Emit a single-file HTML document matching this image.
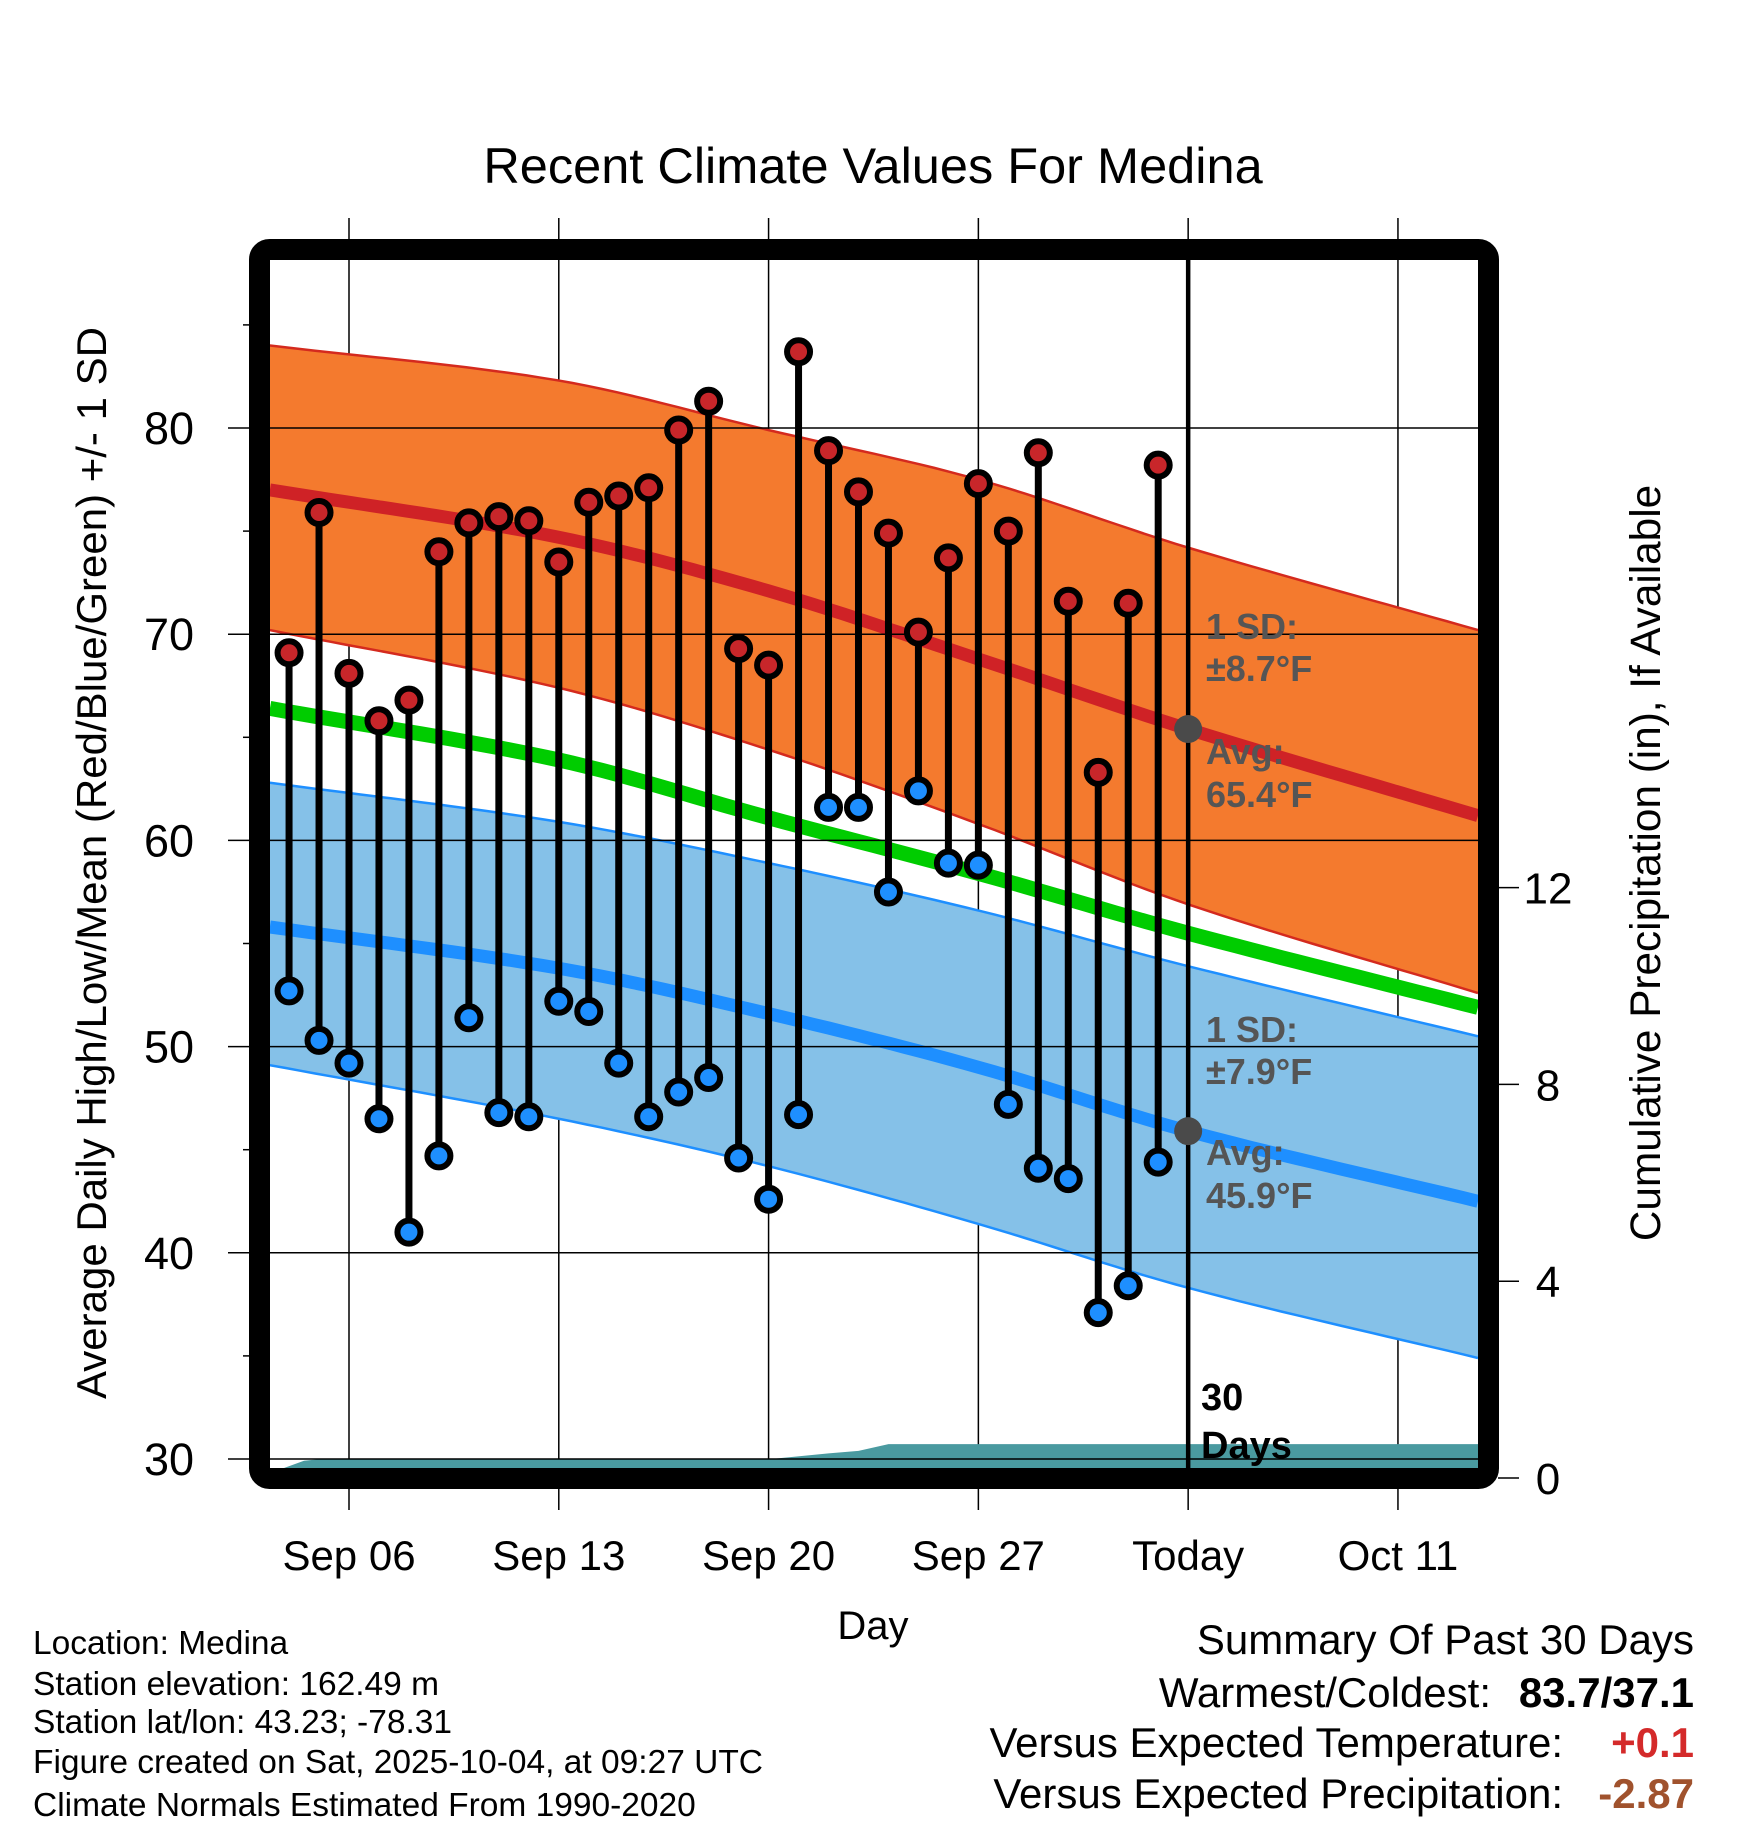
<!DOCTYPE html>
<html><head><meta charset="utf-8"><style>
html,body{margin:0;padding:0;background:#fff}
svg{display:block;font-family:"Liberation Sans",Arial,sans-serif}
</style></head><body>
<svg id="chart" width="1748" height="1828" viewBox="0 0 1748 1828" xmlns="http://www.w3.org/2000/svg">
<defs><clipPath id="plotclip"><rect x="270" y="260" width="1208" height="1208"/></clipPath></defs>
<text x="873" y="183" font-size="50.5" text-anchor="middle">Recent Climate Values For Medina</text>
<g id="grid"></g>
<g id="plot" clip-path="url(#plotclip)"></g>
<g id="axes"></g>
<g id="marks"></g>
<text transform="translate(106,863) rotate(-90)" font-size="42" text-anchor="middle">Average Daily High/Low/Mean (Red/Blue/Green) +/- 1 SD</text>
<text transform="translate(1660,863) rotate(-90)" font-size="42.3" text-anchor="middle">Cumulative Precipitation (in), If Available</text>
<text x="873" y="1639" font-size="40" text-anchor="middle">Day</text>
<g font-size="33.5">
<text x="33" y="1654">Location: Medina</text>
<text x="33" y="1695">Station elevation: 162.49 m</text>
<text x="33" y="1733">Station lat/lon: 43.23; -78.31</text>
<text x="33" y="1773">Figure created on Sat, 2025-10-04, at 09:27 UTC</text>
<text x="33" y="1816">Climate Normals Estimated From 1990-2020</text>
</g>
<g font-size="42">
<text x="1694" y="1654" text-anchor="end">Summary Of Past 30 Days</text>
<text x="1491" y="1707" text-anchor="end">Warmest/Coldest:</text>
<text x="1694" y="1707" text-anchor="end" font-weight="bold">83.7/37.1</text>
<text x="1563" y="1757" text-anchor="end">Versus Expected Temperature:</text>
<text x="1694" y="1757" text-anchor="end" font-weight="bold" fill="#d42a2a">+0.1</text>
<text x="1563" y="1808" text-anchor="end">Versus Expected Precipitation:</text>
<text x="1694" y="1808" text-anchor="end" font-weight="bold" fill="#a0522d">-2.87</text>
</g>
</svg>
<script>
// day index 0 = Sep 06
const normDays   = [-2.64, 7, 14, 21, 28, 37.67];
const upperSDHi  = [84.0, 82.3, 79.9, 77.5, 74.2, 70.2];
const avgHi      = [77.0, 74.7, 72.1, 68.8, 65.4, 61.2];
const lowerSDHi  = [70.2, 67.4, 64.4, 60.8, 56.9, 52.6];
const avgMean    = [66.4, 63.9, 61.1, 58.4, 55.5, 51.9];
const upperSDLo  = [62.8, 60.9, 58.9, 56.6, 53.9, 50.5];
const avgLo      = [55.8, 53.8, 51.6, 49.0, 45.9, 42.5];
const lowerSDLo  = [49.1, 46.5, 44.2, 41.4, 38.3, 34.9];
const highs = [69.1,75.9,68.1,65.8,66.8,74.0,75.4,75.7,75.5,73.5,76.4,76.7,77.1,79.9,81.3,69.3,68.5,83.7,78.9,76.9,74.9,70.1,73.7,77.3,75.0,78.8,71.6,63.3,71.5,78.2];
const lows  = [52.7,50.3,49.2,46.5,41.0,44.7,51.4,46.8,46.6,52.2,51.7,49.2,46.6,47.8,48.5,44.6,42.6,46.7,61.6,61.6,57.5,62.4,58.9,58.8,47.2,44.1,43.6,37.1,38.4,44.4];
const firstDay = -2; // Sep 04
const precipDays = [-2.64, -1.5, -1, 14, 16, 17, 18, 37.67];
const precipVals = [0.1, 0.35, 0.38, 0.38, 0.5, 0.55, 0.69, 0.69];
const xTickDays = [0, 7, 14, 21, 28, 35];
const xTickLabels = ["Sep 06","Sep 13","Sep 20","Sep 27","Today","Oct 11"];
const yTicks = [30,40,50,60,70,80];
const y2Ticks = [0,4,8,12];
const todayDay = 28;

const NS="http://www.w3.org/2000/svg";
const X = d => 349 + d*29.97;
const Y = v => 1459 - (v-30)*20.62;
const Y2 = p => 1478 - p*49.2;
function mk(tag, attrs, parent){const e=document.createElementNS(NS,tag);for(const k in attrs)e.setAttribute(k,attrs[k]);parent.appendChild(e);return e;}
function slope(xs,ys,i){
  const n=xs.length;
  if(i===0) return (ys[1]-ys[0])/(xs[1]-xs[0]);
  if(i===n-1) return (ys[n-1]-ys[n-2])/(xs[n-1]-xs[n-2]);
  return (ys[i+1]-ys[i-1])/(xs[i+1]-xs[i-1]);
}
function interp(xs, ys, x){
  let i=0; while(i<xs.length-2 && x>xs[i+1]) i++;
  const x0=xs[i],x1=xs[i+1],h=x1-x0,t=(x-x0)/h;
  const m0=slope(xs,ys,i)*h,m1=slope(xs,ys,i+1)*h;
  const t2=t*t,t3=t2*t;
  return (2*t3-3*t2+1)*ys[i]+(t3-2*t2+t)*m0+(-2*t3+3*t2)*ys[i+1]+(t3-t2)*m1;
}
function curvePts(arr){
  const p=[];const a=normDays[0],b=normDays[normDays.length-1];const N=80;
  for(let k=0;k<=N;k++){const d=a+(b-a)*k/N;p.push([X(d),Y(interp(normDays,arr,d))]);}
  return p;
}
const toStr = p=>p.map(q=>q[0].toFixed(1)+","+q[1].toFixed(1)).join(" ");

const grid=document.getElementById('grid'), plot=document.getElementById('plot'), axes=document.getElementById('axes'), marks=document.getElementById('marks');

const uh=curvePts(upperSDHi), lh=curvePts(lowerSDHi), ul=curvePts(upperSDLo), ll=curvePts(lowerSDLo);
let e=mk('polygon',{points:toStr(uh.concat(lh.slice().reverse())),fill:'#f47a2e'},plot);


e=mk('polygon',{points:toStr(ul.concat(ll.slice().reverse())),fill:'#85c1e8'},plot);


[[uh,'#d42a1e'],[lh,'#d42a1e'],[ul,'#1e8fff'],[ll,'#1e8fff']].forEach(([p,c])=>{
  const l=mk('polyline',{points:toStr(p),fill:'none',stroke:c,'stroke-width':2.5},plot);
  
  
});
e=mk('polyline',{points:toStr(curvePts(avgMean)),fill:'none',stroke:'#00cc00','stroke-width':15},plot);


e=mk('polyline',{points:toStr(curvePts(avgHi)),fill:'none',stroke:'#cf2226','stroke-width':13},plot);


e=mk('polyline',{points:toStr(curvePts(avgLo)),fill:'none',stroke:'#1e8fff','stroke-width':13},plot);



const pp=precipDays.map((d,i)=>[X(d),Y2(precipVals[i])]);
pp.push([X(precipDays[precipDays.length-1]),1478]);pp.push([X(precipDays[0]),1478]);
e=mk('polygon',{points:toStr(pp),fill:'#4a9aa0'},plot);



xTickDays.forEach(d=>{
  const l=mk('line',{x1:X(d),x2:X(d),y1:218,y2:1510,stroke:'#000','stroke-width':1.5},grid);
  
  
});
yTicks.forEach(v=>{
  const l=mk('line',{x1:228,x2:1478,y1:Y(v),y2:Y(v),stroke:'#000','stroke-width':1.5},axes);
  
  
  const t=mk('text',{x:194,y:Y(v)+16,'font-size':45,'text-anchor':'end'},axes);
  t.textContent=v;
  
  
});
for(let v=35;v<=85;v+=10){
  const l=mk('line',{x1:243,x2:250,y1:Y(v),y2:Y(v),stroke:'#000','stroke-width':1.5},axes);
  
  
}
y2Ticks.forEach(p=>{
  const l=mk('line',{x1:1498,x2:1519,y1:Y2(p),y2:Y2(p),stroke:'#000','stroke-width':1.5},axes);
  
  
  const t=mk('text',{x:1548,y:Y2(p)+16,'font-size':44,'text-anchor':'middle'},axes);
  t.textContent=p;
  
  
});
xTickDays.forEach((d,i)=>{
  const t=mk('text',{x:X(d),y:1570,'font-size':42,'text-anchor':'middle'},axes);
  t.textContent=xTickLabels[i];
  
  
});

e=mk('line',{x1:X(todayDay),x2:X(todayDay),y1:258,y2:1470,stroke:'#000','stroke-width':4.5},marks);



highs.forEach((h,i)=>{
  const x=X(firstDay+i);
  const s=mk('line',{x1:x,x2:x,y1:Y(h),y2:Y(lows[i]),stroke:'#000','stroke-width':7},marks);
  
  
});
highs.forEach((h,i)=>{
  const x=X(firstDay+i);
  const a=mk('circle',{cx:x,cy:Y(h),r:11.5,fill:'#c8262a',stroke:'#000','stroke-width':6},marks);
  
  
  const b=mk('circle',{cx:x,cy:Y(lows[i]),r:11.5,fill:'#1e8fff',stroke:'#000','stroke-width':6},marks);
  
  
});

[[interp(normDays,avgHi,todayDay),'today-avg-high-marker'],[interp(normDays,avgLo,todayDay),'today-avg-low-marker']].forEach(([v,n])=>{
  const c=mk('circle',{cx:X(todayDay),cy:Y(v),r:14,fill:'#4a4a4a'},marks);
  
  
});

const ann=[["1 SD:",639],["±8.7°F",681],["Avg:",764],["65.4°F",807],["1 SD:",1042],["±7.9°F",1084],["Avg:",1165],["45.9°F",1208]];
ann.forEach(([s,y])=>{
  const t=mk('text',{x:1206,y:y,'font-size':36,'font-weight':'bold',fill:'#555'},marks);
  t.textContent=s;
  
  
});
e=mk('text',{x:1201,y:1410,'font-size':38,'font-weight':'bold'},marks);
e.textContent="30";


e=mk('text',{x:1201,y:1458,'font-size':38,'font-weight':'bold'},marks);
e.textContent="Days";



e=mk('rect',{x:259.5,y:249.5,width:1229,height:1229,rx:10,fill:'none',stroke:'#000','stroke-width':21},axes);


</script>
</body></html>
